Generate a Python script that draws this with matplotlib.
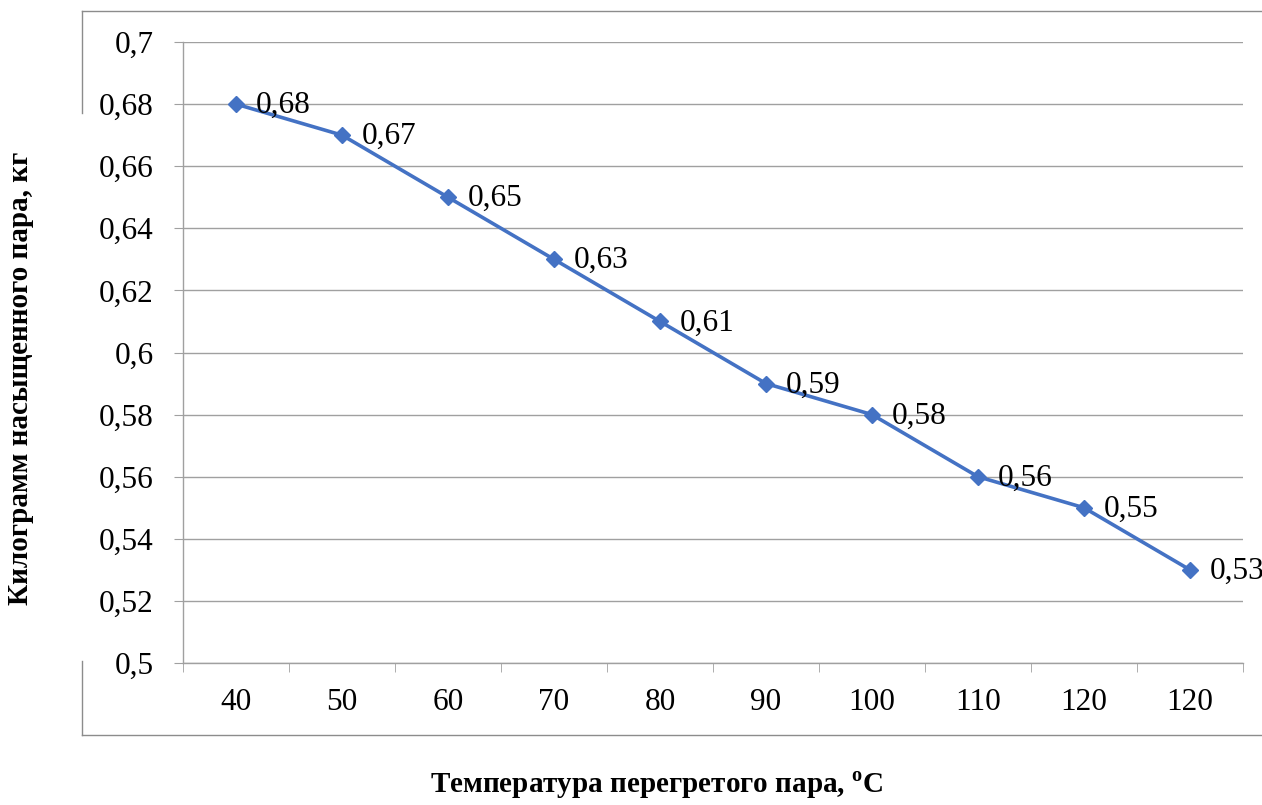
import matplotlib.pyplot as plt
from matplotlib.lines import Line2D

categories = ["40", "50", "60", "70", "80", "90", "100", "110", "120", "120"]
values = [0.68, 0.67, 0.65, 0.63, 0.61, 0.59, 0.58, 0.56, 0.55, 0.53]
y_ticks = [0.5, 0.52, 0.54, 0.56, 0.58, 0.6, 0.62, 0.64, 0.66, 0.68, 0.7]

plt.rcParams["font.family"] = ["Liberation Serif", "DejaVu Serif"]
plt.rcParams["mathtext.fontset"] = "custom"
plt.rcParams["mathtext.rm"] = "Liberation Serif"
plt.rcParams["mathtext.bf"] = "Liberation Serif:bold"

W, H = 1262, 805
fig = plt.figure(figsize=(W / 100, H / 100), dpi=100)
ax = fig.add_axes([183 / W, 1 - 663 / H, (1243 - 183) / W, (663 - 42) / H])

grid_color = "#A0A0A0"
x = list(range(len(categories)))
ax.plot(x, values, color="#4472C4", linewidth=2.6, marker="D", markersize=8,
        zorder=3)

# data labels to the right of each point
for xi, v in zip(x, values):
    ax.annotate(f"{v:.2f}".replace(".", ","), (xi, v), textcoords="offset points",
                xytext=(14, -1), ha="left", va="center", fontsize=22.5,
                annotation_clip=False)

ax.set_xlim(-0.5, len(categories) - 0.5)
ax.set_ylim(0.5, 0.7)
ax.set_yticks(y_ticks)
ax.set_yticklabels([f"{t:g}".replace(".", ",") for t in y_ticks])
ax.set_xticks(x)
ax.set_xticklabels(categories)
ax.set_xticks([i - 0.5 for i in range(len(categories) + 1)], minor=True)

ax.tick_params(axis="y", length=6.5, color=grid_color, labelsize=22.5, pad=14.5)
ax.tick_params(axis="x", which="major", length=0, labelsize=22.5, pad=18)
ax.tick_params(axis="x", which="minor", length=6.5, color=grid_color)

ax.grid(axis="y", color=grid_color, linewidth=1.0)
ax.set_axisbelow(True)
for side in ["top", "right"]:
    ax.spines[side].set_visible(False)
for side in ["left", "bottom"]:
    ax.spines[side].set_color(grid_color)
    ax.spines[side].set_linewidth(1.0)

fig.text(21 / W, 1 - 378 / H, "Килограмм насыщенного пара, кг", rotation=90,
         ha="center", va="center", fontsize=21, fontweight="bold")
fig.text(657 / W, 1 - 785 / H, r"Температура перегретого пара, $^{\mathbf{o}}$C",
         ha="center", va="center", fontsize=21, fontweight="bold")

# chart area border (left side interrupted by the axis title)
border = dict(color="#8C8C8C", linewidth=1.0, transform=fig.transFigure)
for (x0, y0), (x1, y1) in [((82, 11), (W, 11)), ((82, 735), (W, 735)),
                           ((82, 11), (82, 113)), ((82, 661), (82, 735))]:
    fig.add_artist(Line2D([x0 / W, x1 / W], [1 - y0 / H, 1 - y1 / H], **border))

fig.savefig("out.png", dpi=100)
